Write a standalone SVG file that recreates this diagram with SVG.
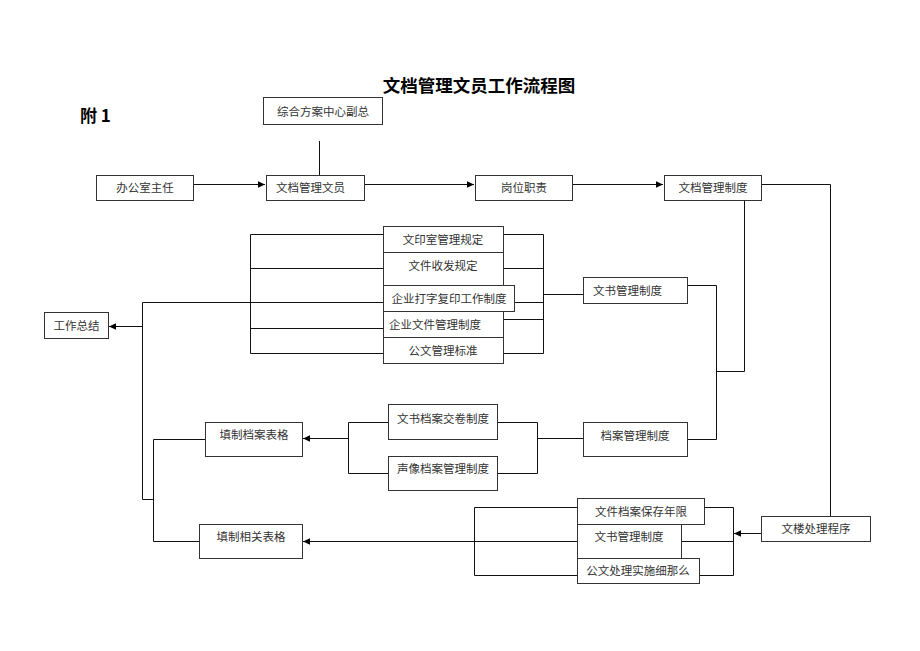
<svg xmlns="http://www.w3.org/2000/svg" width="920" height="651" viewBox="0 0 920 651">
<style>
.box{fill:#fff;stroke:#333;stroke-width:1}
.t{font-family:"Noto Sans CJK SC","Liberation Serif",sans-serif;font-size:11.5px;fill:#333}
.c{text-anchor:middle}
.ln{fill:none;stroke:#111;stroke-width:1}
.title{font-family:"Noto Sans CJK SC",sans-serif;font-size:17.5px;font-weight:bold;fill:#000}
</style>
<defs>
<marker id="ah" markerUnits="userSpaceOnUse" markerWidth="8" markerHeight="8" refX="7" refY="4" orient="auto">
<path d="M0,0.8 L7,4 L0,7.2 Z" fill="#000"/>
</marker>
</defs>
<rect width="920" height="651" fill="#fff"/>
<text class="title" x="479" y="92" text-anchor="middle">文档管理文员工作流程图</text>
<text x="80" y="122" style="font-family:'Noto Sans CJK SC','Liberation Serif',serif;font-size:17px;font-weight:bold">附 1</text>

<g id="connectors">
<path class="ln" d="M193.5 184.5 H265" marker-end="url(#ah)"/>
<path class="ln" d="M364.5 184.5 H474" marker-end="url(#ah)"/>
<path class="ln" d="M572.5 184.5 H663" marker-end="url(#ah)"/>
<path class="ln" d="M319.5 141 V175"/>
<path class="ln" d="M761.5 184.5 H830.5 V516"/>
<path class="ln" d="M744.5 201 V371.5 H716.5"/>
<path class="ln" d="M716.5 285.5 V439.5"/>
<path class="ln" d="M687 285.5 H716.5"/>
<path class="ln" d="M687 439.5 H716.5"/>
<path class="ln" d="M761 533.5 H734" marker-end="url(#ah)"/>
<path class="ln" d="M503 234.5 H543.5 M503 268.5 H543.5 M514 302.5 H543.5 M503 319.5 H543.5 M503 353.5 H543.5 M543.5 234.5 V353.5 M543.5 294.5 H583"/>
<path class="ln" d="M383 234.5 H250.5 V353.5 H383 M250.5 268.5 H383 M142.5 302.5 H383 M250.5 328.5 H383"/>
<path class="ln" d="M142.5 302.5 V499.5 H153.5"/>
<path class="ln" d="M142.5 326.5 H109" marker-end="url(#ah)"/>
<path class="ln" d="M153.5 439.5 V541.5 M153.5 439.5 H205 M153.5 541.5 H199"/>
<path class="ln" d="M583 438.5 H537.5 M537.5 422.5 V473.5 M497 422.5 H537.5 M497 473.5 H537.5 M388 422.5 H348.5 V473.5 H388"/>
<path class="ln" d="M348.5 438.5 H303" marker-end="url(#ah)"/>
<path class="ln" d="M577 507.5 H474.5 V575.5 H577"/>
<path class="ln" d="M577 541.5 H303" marker-end="url(#ah)"/>
<path class="ln" d="M704 507.5 H733.5 V575.5 H699 M681 541.5 H733.5"/>
</g>

<g id="n-fuzong"><rect class="box" x="263.5" y="97.5" width="119" height="27"/><text class="t c" x="323" y="115.5">综合方案中心副总</text></g>
<g id="n-bangong"><rect class="box" x="96.5" y="175.5" width="97" height="25"/><text class="t c" x="145" y="192">办公室主任</text></g>
<g id="n-wenyuan"><rect class="box" x="266.5" y="175.5" width="98" height="25"/><text class="t" x="276" y="192">文档管理文员</text></g>
<g id="n-gangwei"><rect class="box" x="475.5" y="175.5" width="97" height="25"/><text class="t c" x="524" y="192">岗位职责</text></g>
<g id="n-zhidu"><rect class="box" x="664.5" y="175.5" width="97" height="25"/><text class="t c" x="713" y="192">文档管理制度</text></g>

<g id="n-wenyin"><rect class="box" x="383.5" y="226.5" width="120" height="26"/><text class="t c" x="443" y="243.5">文印室管理规定</text></g>
<g id="n-shoufa"><rect class="box" x="383.5" y="252.5" width="120" height="33"/><text class="t c" x="443" y="269.5">文件收发规定</text></g>
<g id="n-dazi"><rect class="box" x="383.5" y="285.5" width="131" height="26"/><text class="t c" x="449" y="302.5">企业打字复印工作制度</text></g>
<g id="n-qiye"><rect class="box" x="383.5" y="311.5" width="120" height="26"/><text class="t" x="389" y="328.5">企业文件管理制度</text></g>
<g id="n-gongwen"><rect class="box" x="383.5" y="337.5" width="120" height="26"/><text class="t c" x="443" y="354.5">公文管理标准</text></g>

<g id="n-wenshu"><rect class="box" x="583.5" y="277.5" width="104" height="26"/><text class="t" x="593" y="294.5">文书管理制度</text></g>
<g id="n-dangan"><rect class="box" x="583.5" y="422.5" width="104" height="34"/><text class="t c" x="635" y="439.5">档案管理制度</text></g>
<g id="n-zongjie"><rect class="box" x="44.5" y="312.5" width="64" height="26"/><text class="t c" x="76.5" y="329.5">工作总结</text></g>

<g id="n-jiaojuan"><rect class="box" x="388.5" y="404.5" width="109" height="35"/><text class="t c" x="443" y="423">文书档案交卷制度</text></g>
<g id="n-shengxiang"><rect class="box" x="388.5" y="456.5" width="109" height="34"/><text class="t c" x="443" y="473">声像档案管理制度</text></g>
<g id="n-tianzhi1"><rect class="box" x="205.5" y="422.5" width="97" height="34"/><text class="t c" x="254" y="439">填制档案表格</text></g>
<g id="n-tianzhi2"><rect class="box" x="199.5" y="524.5" width="103" height="34"/><text class="t c" x="251" y="541">填制相关表格</text></g>

<g id="n-baocun"><rect class="box" x="577.5" y="498.5" width="127" height="26"/><text class="t c" x="641" y="515.5">文件档案保存年限</text></g>
<g id="n-wenshu2"><rect class="box" x="577.5" y="524.5" width="104" height="34"/><text class="t c" x="629" y="541">文书管理制度</text></g>
<g id="n-xize"><rect class="box" x="577.5" y="558.5" width="122" height="25"/><text class="t c" x="638" y="575">公文处理实施细那么</text></g>
<g id="n-chuli"><rect class="box" x="761.5" y="516.5" width="109" height="25"/><text class="t c" x="816" y="533">文楼处理程序</text></g>
</svg>
